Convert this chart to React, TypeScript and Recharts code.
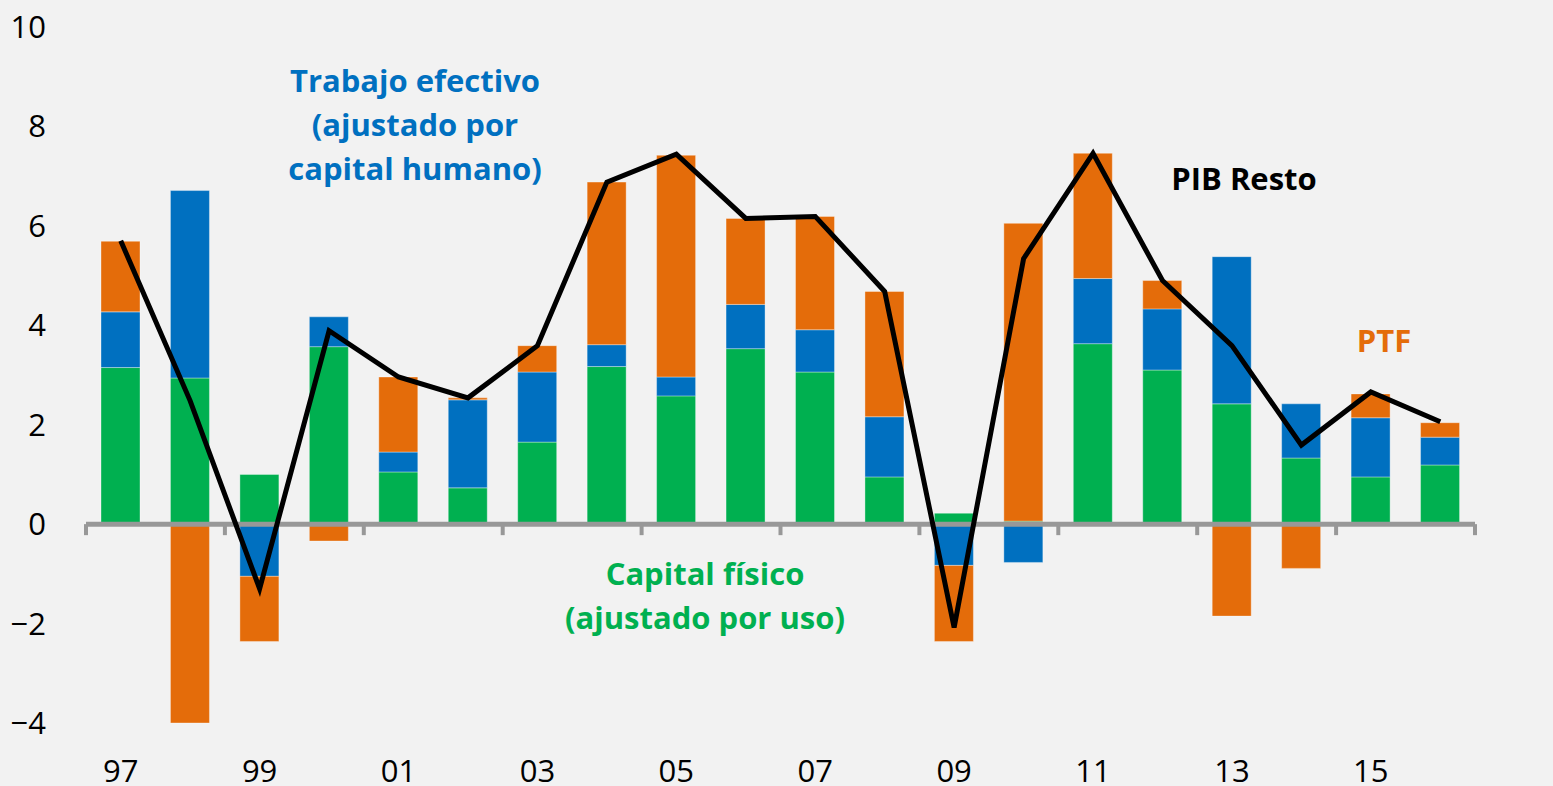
import React from 'react';
import { ComposedChart, Bar, Line, XAxis, YAxis, ReferenceLine } from 'recharts';

const years = ['97','98','99','00','01','02','03','04','05','06','07','08','09','10','11','12','13','14','15','16'];
const capitalFisico = [3.15,2.94,1.0,3.57,1.05,0.73,1.65,3.17,2.58,3.53,3.06,0.95,0.22,0.06,3.63,3.1,2.42,1.33,0.95,1.19];
const trabajo = [1.12,3.77,-1.05,0.6,0.4,1.77,1.41,0.44,0.38,0.89,0.85,1.21,-0.83,-0.77,1.31,1.23,2.96,1.09,1.19,0.56];
const ptf = [1.42,-4.0,-1.31,-0.34,1.51,0.04,0.53,3.27,4.46,1.73,2.28,2.52,-1.53,5.99,2.52,0.57,-1.85,-0.89,0.48,0.29];
const pibResto = [5.7,2.48,-1.3,3.89,2.96,2.54,3.59,6.88,7.44,6.15,6.19,4.68,-2.08,5.34,7.46,4.9,3.59,1.59,2.66,2.06];
const yTicks = [-4,-2,0,2,4,6,8,10];

const data = years.map((y, i) => ({
  year: y,
  capital: capitalFisico[i],
  trabajo: trabajo[i],
  ptf: ptf[i],
  pib: pibResto[i],
}));

const FONT = '"Open Sans", "Noto Sans", sans-serif';
const GREEN = '#00b050';
const BLUE = '#0070c0';
const ORANGE = '#e46c0a';
const AXIS = '#989898';

const fmt = (v: number) => (v < 0 ? '\u2212' + Math.abs(v) : String(v));

const XTick = (props: any) => {
  const { x, y, index, payload } = props;
  if (index % 2 !== 0) return <g />;
  return (
    <text x={x} y={y + 48} dy="0.35em" textAnchor="middle" fontFamily={FONT} fontSize={31} fill="#000">
      {payload.value}
    </text>
  );
};

const ZeroAxis = (props: any) => {
  const { x1, y1, x2 } = props;
  const n = years.length;
  const band = (x2 - x1) / n;
  const ticks: React.ReactNode[] = [];
  for (let k = 0; k <= n; k += 2) {
    const tx = x1 + k * band;
    ticks.push(<line key={k} x1={tx} x2={tx} y1={y1} y2={y1 + 11} stroke={AXIS} strokeWidth={4} />);
  }
  return (
    <g>
      <line x1={x1} x2={x2} y1={y1} y2={y1} stroke={AXIS} strokeWidth={5} />
      {ticks}
    </g>
  );
};

const labelBase: React.CSSProperties = {
  position: 'absolute',
  fontFamily: FONT,
  fontWeight: 700,
  fontSize: 31,
  lineHeight: '44px',
  textAlign: 'center',
  whiteSpace: 'nowrap',
  transform: 'translateX(-50%)',
};

export default function App() {
  return (
    <div style={{ position: 'relative', width: 1553, height: 786, background: '#f2f2f2' }}>
      <style>{`body{margin:0;}`}</style>
      <ComposedChart
        width={1553}
        height={786}
        data={data}
        stackOffset="sign"
        margin={{ top: 27, right: 0, bottom: 0, left: 0 }}
      >
        <XAxis
          dataKey="year"
          interval={0}
          height={63}
          axisLine={false}
          tickLine={false}
          tickSize={0}
          tickMargin={0}
          tick={<XTick />}
        />
        <YAxis
          yAxisId="left"
          orientation="left"
          width={86}
          domain={[-4, 10]}
          ticks={yTicks}
          axisLine={false}
          tickLine={false}
          tickSize={0}
          tickMargin={40}
          tickFormatter={fmt}
          tick={{ fontFamily: FONT, fontSize: 31, fill: '#000' }}
        />
        <YAxis
          yAxisId="right"
          orientation="right"
          width={78}
          domain={[-4, 10]}
          ticks={yTicks}
          axisLine={false}
          tickLine={false}
          tickSize={0}
          tickMargin={35}
          tickFormatter={fmt}
          tick={{ fontFamily: FONT, fontSize: 31, fill: '#000', textAnchor: 'start' }}
        />
        <Bar yAxisId="left" dataKey="capital" stackId="a" fill={GREEN} barSize={39} isAnimationActive={false} stroke="#ffffff" strokeOpacity={0.35} strokeWidth={1} />
        <Bar yAxisId="left" dataKey="trabajo" stackId="a" fill={BLUE} barSize={39} isAnimationActive={false} stroke="#ffffff" strokeOpacity={0.35} strokeWidth={1} />
        <Bar yAxisId="left" dataKey="ptf" stackId="a" fill={ORANGE} barSize={39} isAnimationActive={false} stroke="#ffffff" strokeOpacity={0.35} strokeWidth={1} />
        <ReferenceLine yAxisId="left" y={0} shape={(p: any) => <ZeroAxis {...p} />} />
        <Line yAxisId="left" dataKey="pib" type="linear" stroke="#000" strokeWidth={5} dot={false} isAnimationActive={false} />
      </ComposedChart>

      <div style={{ ...labelBase, left: 415, top: 58, color: BLUE }}>
        Trabajo efectivo<br />(ajustado por<br />capital humano)
      </div>
      <div style={{ ...labelBase, left: 1244, top: 156, color: '#000' }}>PIB Resto</div>
      <div style={{ ...labelBase, left: 1384, top: 318, color: ORANGE }}>PTF</div>
      <div style={{ ...labelBase, left: 705, top: 551, color: GREEN }}>
        Capital físico<br />(ajustado por uso)
      </div>
    </div>
  );
}
